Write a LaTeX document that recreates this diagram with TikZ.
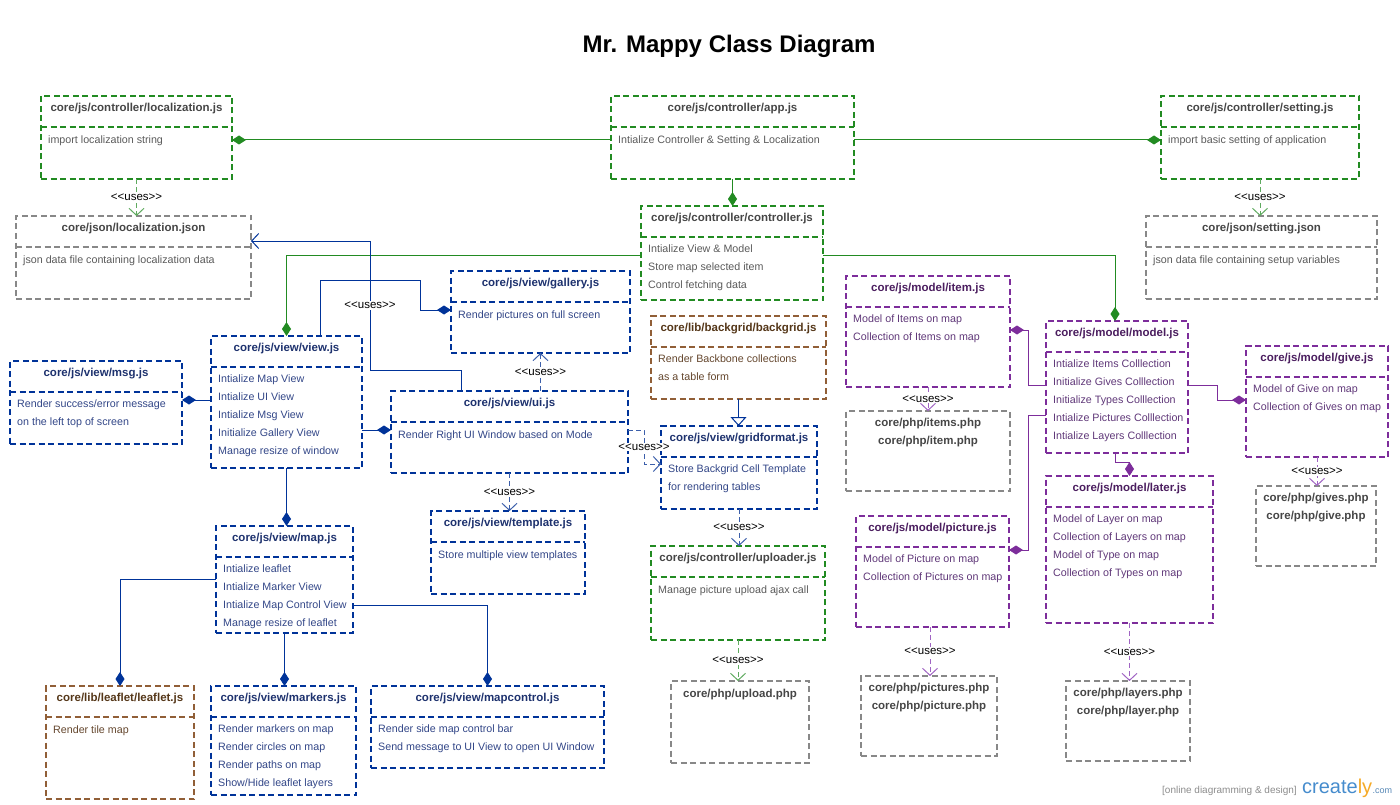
\documentclass[tikz,border=0pt]{standalone}
\usepackage{fontspec}
\setmainfont{Liberation Sans}
\usetikzlibrary{arrows.meta}

\definecolor{boxgreen}{RGB}{34,139,34}
\definecolor{boxblue}{RGB}{0,51,153}
\definecolor{boxpurple}{RGB}{125,45,155}
\definecolor{boxbrown}{RGB}{145,95,55}
\definecolor{boxgray}{RGB}{136,136,136}
\definecolor{txtgray}{RGB}{70,70,70}
\definecolor{txtlightgray}{RGB}{90,90,90}
\definecolor{txtblue}{RGB}{30,50,110}
\definecolor{txtlightblue}{RGB}{50,70,135}
\definecolor{txtpurple}{RGB}{75,30,95}
\definecolor{txtlightpurple}{RGB}{95,55,120}
\definecolor{txtbrown}{RGB}{85,55,25}
\definecolor{txtlightbrown}{RGB}{100,70,45}
\definecolor{usesgreen}{RGB}{95,170,95}
\definecolor{usesblue}{RGB}{60,95,170}
\definecolor{usespurple}{RGB}{160,100,195}
\definecolor{wmgray}{RGB}{140,140,140}
\definecolor{crblue}{RGB}{70,140,205}
\definecolor{crorange}{RGB}{245,170,40}

\tikzstyle{classbox} = [rectangle, line width=2pt, dash pattern=on 6pt off 3.5pt, anchor=north west, inner sep=0pt, outer sep=0pt]
\tikzstyle{greenbox} = [classbox, draw=boxgreen]
\tikzstyle{bluebox} = [classbox, draw=boxblue]
\tikzstyle{purplebox} = [classbox, draw=boxpurple]
\tikzstyle{brownbox} = [classbox, draw=boxbrown]
\tikzstyle{graybox} = [classbox, draw=boxgray]
\tikzstyle{classtitle} = [anchor=base, inner sep=0pt, font=\fontsize{11.5pt}{14pt}\selectfont\bfseries]
\tikzstyle{greentitle} = [classtitle, text=txtgray]
\tikzstyle{bluetitle} = [classtitle, text=txtblue]
\tikzstyle{purpletitle} = [classtitle, text=txtpurple]
\tikzstyle{browntitle} = [classtitle, text=txtbrown]
\tikzstyle{graytitle} = [classtitle, text=txtgray]
\tikzstyle{classbody} = [anchor=north west, align=left, inner xsep=7pt, inner ysep=0pt, font=\fontsize{10.7pt}{18pt}\selectfont, execute at begin node={\rule{0pt}{8pt}}]
\tikzstyle{greenbody} = [classbody, text=txtlightgray]
\tikzstyle{bluebody} = [classbody, text=txtlightblue]
\tikzstyle{purplebody} = [classbody, text=txtlightpurple]
\tikzstyle{brownbody} = [classbody, text=txtlightbrown]
\tikzstyle{graybody} = [classbody, text=txtlightgray]
\tikzstyle{filetext} = [anchor=north, align=center, inner sep=0pt, text=txtgray, font=\fontsize{11.5pt}{18pt}\selectfont\bfseries, execute at begin node={\rule{0pt}{9pt}}]
\tikzstyle{greenline} = [draw=boxgreen, line width=1pt]
\tikzstyle{blueline} = [draw=boxblue, line width=1pt]
\tikzstyle{purpleline} = [draw=boxpurple, line width=1pt]
\tikzstyle{compose} = [-{Diamond[length=14pt,width=9pt]}]
\tikzstyle{usesline} = [line width=1pt, dash pattern=on 5pt off 3pt, -{Straight Barb[length=7pt,width=15pt]}]
\tikzstyle{greenuses} = [usesline, draw=usesgreen]
\tikzstyle{blueuses} = [usesline, draw=usesblue]
\tikzstyle{purpleuses} = [usesline, draw=usespurple]
\tikzstyle{useslabel} = [fill=white, inner sep=1pt, text=black, font=\fontsize{11.5pt}{13pt}\selectfont]

\newcommand{\umlclass}[8]{%
  \node[#6box, minimum width=#4pt, minimum height=#5pt] (#1) at (#2,#3) {};
  \node[#6title] (#1-t) at ([yshift=-15.5pt]#1.north) {#7};
  \draw[#6box] ([yshift=-31pt]#1.north west) -- ([yshift=-31pt]#1.north east);
  \node[#6body] (#1-b) at ([yshift=-39pt]#1.north west) {#8};}
\newcommand{\umlfile}[6]{%
  \node[graybox, minimum width=#4pt, minimum height=#5pt] (#1) at (#2,#3) {};
  \node[filetext] (#1-t) at ([yshift=-7pt]#1.north) {#6};}
\newcommand{\usestext}{<{}<uses>{}>}

\begin{document}
\begin{tikzpicture}[x=1pt, y=-1pt]
        \useasboundingbox (0,0) rectangle (1400,805);
        \node[font=\fontsize{24pt}{28pt}\selectfont\bfseries, anchor=base] (title) at (729,52.5) {Mr. Mappy Class Diagram};

        \umlclass{locjs}{41}{96}{191}{83}{green}{core/js/controller/localization.js}{import localization string}
        \umlclass{app}{611}{96}{243}{83}{green}{core/js/controller/app.js}{Intialize Controller \& Setting \& Localization}
        \umlclass{setjs}{1161}{96}{198}{83}{green}{core/js/controller/setting.js}{import basic setting of application}
        \umlclass{locjson}{16}{216}{235}{83}{gray}{core/json/localization.json}{json data file containing localization data}
        \umlclass{setjson}{1146}{216}{231}{83}{gray}{core/json/setting.json}{json data file containing setup variables}
        \umlclass{ctrl}{641}{206}{182}{94}{green}{core/js/controller/controller.js}{Intialize View \& Model\\Store map selected item\\Control fetching data}
        \umlclass{gallery}{451}{271}{179}{82}{blue}{core/js/view/gallery.js}{Render pictures on full screen}
        \umlclass{item}{846}{276}{164}{111}{purple}{core/js/model/item.js}{Model of Items on map\\Collection of Items on map}
        \umlclass{backgrid}{651}{316}{175}{83}{brown}{core/lib/backgrid/backgrid.js}{Render Backbone collections\\as a table form}
        \umlclass{view}{211}{336}{151}{132}{blue}{core/js/view/view.js}{Intialize Map View\\Intialize UI View\\Intialize Msg View\\Initialize Gallery View\\Manage resize of window}
        \umlclass{msg}{10}{361}{172}{83}{blue}{core/js/view/msg.js}{Render success/error message\\on the left top of screen}
        \umlclass{model}{1046}{321}{142}{132}{purple}{core/js/model/model.js}{Intialize Items Colllection\\Initialize Gives Colllection\\Initialize Types Colllection\\Intialize Pictures Colllection\\Intialize Layers Colllection}
        \umlclass{give}{1246}{346}{142}{111}{purple}{core/js/model/give.js}{Model of Give on map\\Collection of Gives on map}
        \umlclass{ui}{391}{391}{237}{82}{blue}{core/js/view/ui.js}{Render Right UI Window based on Mode}
        \umlclass{grid}{661}{426}{156}{83}{blue}{core/js/view/gridformat.js}{Store Backgrid Cell Template\\for rendering tables}
        \umlfile{itemsphp}{846}{411}{164}{80}{core/php/items.php\\core/php/item.php}
        \umlfile{givesphp}{1256}{486}{120}{80}{core/php/gives.php\\core/php/give.php}
        \umlclass{later}{1046}{476}{167}{147}{purple}{core/js/model/later.js}{Model of Layer on map\\Collection of Layers on map\\Model of Type on map\\Collection of Types on map}
        \umlclass{template}{431}{511}{154}{83}{blue}{core/js/view/template.js}{Store multiple view templates}
        \umlclass{map}{216}{526}{137}{107}{blue}{core/js/view/map.js}{Intialize leaflet\\Intialize Marker View\\Intialize Map Control View\\Manage resize of leaflet}
        \umlclass{uploader}{651}{546}{174}{94}{green}{core/js/controller/uploader.js}{Manage picture upload ajax call}
        \umlclass{picture}{856}{516}{153}{111}{purple}{core/js/model/picture.js}{Model of Picture on map\\Collection of Pictures on map}
        \umlfile{uploadphp}{671}{681}{138}{82}{core/php/upload.php}
        \umlfile{picturesphp}{861}{676}{136}{80}{core/php/pictures.php\\core/php/picture.php}
        \umlfile{layersphp}{1066}{681}{124}{80}{core/php/layers.php\\core/php/layer.php}
        \umlclass{leaflet}{46}{686}{148}{113}{brown}{core/lib/leaflet/leaflet.js}{Render tile map}
        \umlclass{markers}{211}{686}{145}{109}{blue}{core/js/view/markers.js}{Render markers on map\\Render circles on map\\Render paths on map\\Show/Hide leaflet layers}
        \umlclass{mapctrl}{371}{686}{233}{82}{blue}{core/js/view/mapcontrol.js}{Render side map control bar\\Send message to UI View to open UI Window}

        \draw[greenline, compose] ([yshift=-2.5pt]app.west) -- ([yshift=-2.5pt]locjs.east);
        \draw[greenline, compose] ([yshift=-2.5pt]app.east) -- ([yshift=-2.5pt]setjs.west);
        \draw[greenline, compose] (app.south) -- (app.south |- ctrl.north);
        \draw[greenline, compose] ([yshift=-2pt]ctrl.west) -| (view.north);
        \draw[greenline, compose] ([yshift=-2pt]ctrl.east) -| ([xshift=-2pt]model.north);
        \draw[blueline, compose] ([xshift=33.5pt]view.north) -- ++(0,-56) -- ++(100,0) |- ([yshift=2pt]gallery.west);
        \draw[blueline, compose] ([yshift=2pt]view.west) -- ([yshift=2pt]view.west -| msg.east);
        \draw[blueline, compose] ([yshift=-28pt]view.east) -- ([yshift=-28pt]view.east -| ui.west);
        \draw[blueline, compose] (view.south) -- (view.south |- map.north);
        \draw[blueline, compose] (map.west) -| (leaflet.north);
        \draw[blueline, compose] (map.south) -- (map.south |- markers.north);
        \draw[blueline, compose] ([yshift=-25.5pt]map.east) -| (mapctrl.north);
        \draw[blueline, -{Triangle[open, length=9pt, width=16pt]}] (backgrid.south) -- (backgrid.south |- grid.north);
        \draw[blueline, -{Straight Barb[length=7pt, width=15pt]}] ([xshift=-48.5pt]ui.north) -- ++(0,-21) -- ++(-91,0) |- node[useslabel, pos=0.25] (u2) {\usestext} ([yshift=16.5pt]locjson.east);
        \draw[purpleline, compose] ([yshift=2pt]model.west) -- ++(-18,0) |- ([yshift=1.5pt]item.east);
        \draw[purpleline, compose] ([yshift=-28pt]model.west) -- ++(-18,0) |- ([yshift=21.5pt]picture.east);
        \draw[purpleline, compose] ([yshift=2pt]model.east) -- ++(29,0) |- ([yshift=1.5pt]give.west);
        \draw[purpleline, compose] ([xshift=-2pt]model.south) -- ++(0,9) -| (later.north);

        \draw[greenuses] (locjs.south) -- node[useslabel] (u1) {\usestext} (locjs.south |- locjson.north);
        \draw[greenuses] (setjs.south) -- node[useslabel] (u3) {\usestext} (setjs.south |- setjson.north);
        \draw[blueuses] ([xshift=31pt]ui.north) -- node[useslabel] (u4) {\usestext} (gallery.south);
        \draw[blueuses] (ui.south) -- node[useslabel] (u5) {\usestext} (ui.south |- template.north);
        \draw[blueuses] ([yshift=2pt]ui.east) -- ++(16,0) |- node[useslabel, pos=0.25] (u6) {\usestext} ([yshift=3.5pt]grid.west);
        \draw[blueuses] (grid.south) -- node[useslabel] (u7) {\usestext} (grid.south |- uploader.north);
        \draw[greenuses] (uploader.south) -- node[useslabel] (u8) {\usestext} (uploader.south |- uploadphp.north);
        \draw[purpleuses] (item.south) -- node[useslabel] (u9) {\usestext} (item.south |- itemsphp.north);
        \draw[purpleuses] (give.south) -- node[useslabel] (u10) {\usestext} (give.south |- givesphp.north);
        \draw[purpleuses] ([xshift=-2.5pt]picture.south) -- node[useslabel] (u11) {\usestext} ([xshift=-2.5pt]picture.south |- picturesphp.north);
        \draw[purpleuses] (later.south) -- node[useslabel] (u12) {\usestext} (later.south |- layersphp.north);

        \node[anchor=base west, inner sep=0pt, text=wmgray, font=\fontsize{10pt}{12pt}\selectfont] (wmtext) at (1162,793) {[online diagramming \& design]};
        \node[anchor=base west, inner sep=0pt, font=\fontsize{20pt}{22pt}\selectfont] (wmlogo) at (1302,793) {\textcolor{crblue}{create}\textcolor{crorange}{ly}};
        \node[anchor=base west, inner sep=0pt, text=crblue!70!gray, font=\fontsize{9pt}{10pt}\selectfont] (wmcom) at (wmlogo.base east) {.com};
\end{tikzpicture}
\end{document}
